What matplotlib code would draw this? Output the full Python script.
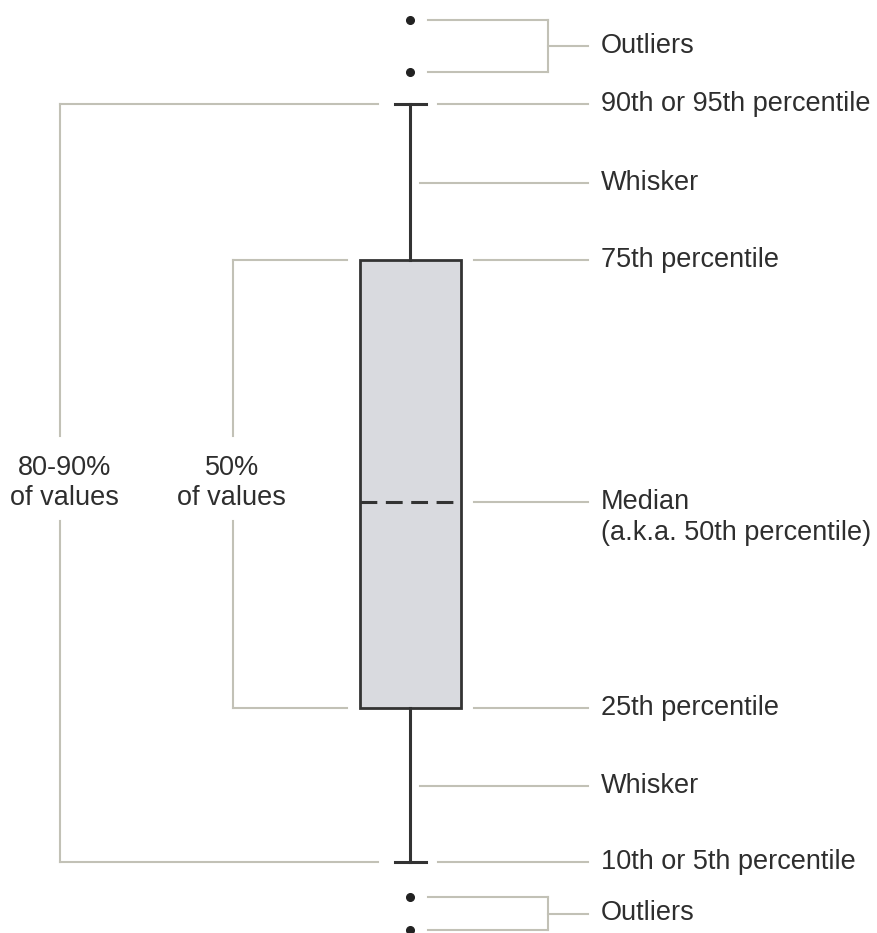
import matplotlib.pyplot as plt

plt.rcParams['font.family'] = ['Liberation Sans', 'DejaVu Sans']

# Box statistics (vertical positions on the diagram scale, top = 0)
whisker_high = 104
q3 = 260
median = 502
q1 = 708
whisker_low = 862
outliers_top = [20, 72]
outliers_bottom = [897, 930]

# Right-hand labels and the level they point to
right_labels = ["90th or 95th percentile", "Whisker", "75th percentile",
                "Median\n(a.k.a. 50th percentile)", "25th percentile",
                "Whisker", "10th or 5th percentile"]
right_levels = [whisker_high, (whisker_high + q3) / 2 + 1, q3, median, q1,
                (q1 + whisker_low) / 2 + 1, whisker_low]

# Left-hand range labels
range_labels = ["80-90%\nof values", "50%\nof values"]
range_spans = [(whisker_high, whisker_low), (q3, q1)]

text_col = "#2e2e2e"
line_col = "#c2c1b6"
fs = 19.5
box_x = 410

fig = plt.figure(figsize=(8.77, 9.33), dpi=100)
ax = fig.add_axes([0, 0, 1, 1])
ax.set_xlim(0, 877)
ax.set_ylim(933, 0)
ax.axis("off")

stats = [{"med": median, "q1": q1, "q3": q3, "whislo": whisker_low,
          "whishi": whisker_high, "fliers": outliers_top + outliers_bottom}]
ax.bxp(stats, positions=[box_x], widths=101, capwidths=31,
       patch_artist=True, manage_ticks=False,
       boxprops=dict(facecolor="#d9dadf", edgecolor="#333333", linewidth=2),
       whiskerprops=dict(color="#333333", linewidth=2.2),
       capprops=dict(color="#333333", linewidth=2.2),
       medianprops=dict(color="#333333", linewidth=2.2, linestyle=(0, (5.5, 2.8))),
       flierprops=dict(marker="o", markersize=5.5, markerfacecolor="#222222",
                       markeredgecolor="#222222"))

# right-side leaders and labels
for lab, lev in zip(right_labels, right_levels):
    if lab == "Whisker":
        x0 = 420
    elif lev in (q3, median, q1):
        x0 = 474
    else:
        x0 = 438
    ax.plot([x0, 588], [lev, lev], color=line_col, lw=1.5)
    for k, part in enumerate(lab.split("\n")):
        ax.text(601, lev + 31 * k, part, ha="left", va="center",
                fontsize=fs, color=text_col)

# outlier brackets
for grp in (outliers_top, outliers_bottom):
    mid = sum(grp) / 2
    for y in grp:
        ax.plot([428, 548], [y, y], color=line_col, lw=1.5)
    ax.plot([548, 548], grp, color=line_col, lw=1.5)
    ax.plot([548, 588], [mid, mid], color=line_col, lw=1.5)
    ax.text(601, mid, "Outliers", ha="left", va="center", fontsize=fs, color=text_col)

# left range brackets
for lab, (top, bot), xv, xend, xt in zip(range_labels, range_spans,
                                         [60, 233], [378, 347], [65, 232]):
    ax.plot([xv, xend], [top, top], color=line_col, lw=1.5)
    ax.plot([xv, xend], [bot, bot], color=line_col, lw=1.5)
    ax.plot([xv, xv], [top, 436], color=line_col, lw=1.5)
    ax.plot([xv, xv], [521, bot], color=line_col, lw=1.5)
    l1, l2 = lab.split("\n")
    ax.text(xt, 468, l1, ha="center", va="center", fontsize=fs, color=text_col)
    ax.text(xt - 1, 498, l2, ha="center", va="center", fontsize=fs, color=text_col)

plt.savefig("out.png", dpi=100)
